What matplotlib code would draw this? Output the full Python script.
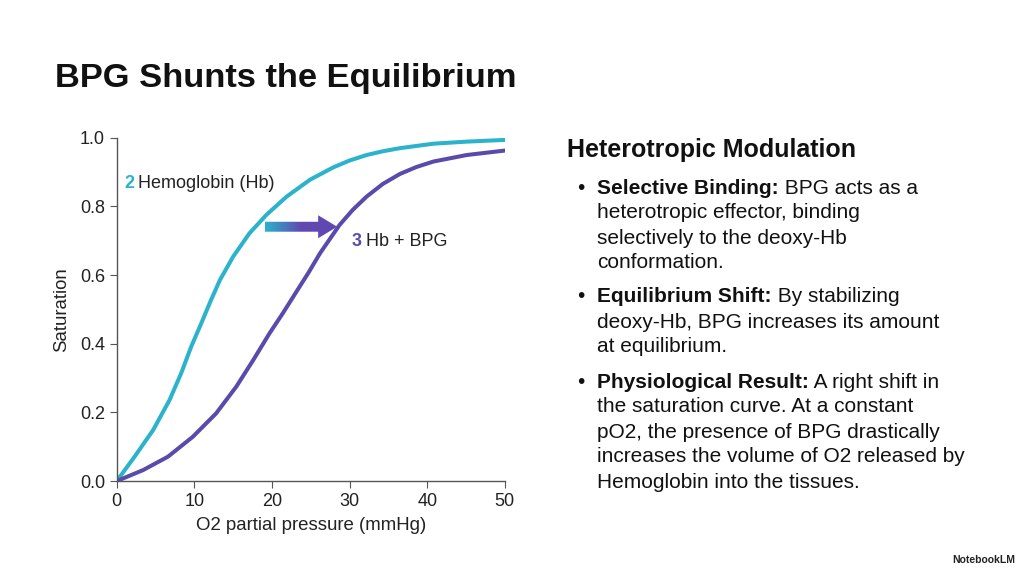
import matplotlib.pyplot as plt
import matplotlib.patches as mpatches
import numpy as np
from matplotlib.colors import LinearSegmentedColormap

plt.rcParams['font.family'] = ['Liberation Sans', 'DejaVu Sans']

# values
po2 = [0, 2.3, 4.7, 6.8, 8.3, 9.6, 10.9, 12.1, 13.3, 15.0, 17.1, 19.3, 21.9, 24.9,
       27.9, 30.0, 32.2, 34.3, 36.5, 40.8, 45.1, 50]
hb = [0, 0.071, 0.149, 0.236, 0.314, 0.392, 0.46, 0.525, 0.586, 0.654, 0.722, 0.776,
      0.829, 0.878, 0.914, 0.934, 0.950, 0.961, 0.970, 0.983, 0.989, 0.994]
po2_bpg = [0, 3.4, 6.6, 9.8, 12.8, 15.4, 17.6, 19.7, 21.4, 23.1, 24.7, 26.2, 28.7,
           30.4, 32.2, 34.3, 36.5, 38.6, 40.8, 45.1, 50]
hb_bpg = [0, 0.032, 0.071, 0.129, 0.197, 0.275, 0.353, 0.431, 0.489, 0.55, 0.607,
          0.664, 0.746, 0.79, 0.829, 0.866, 0.895, 0.915, 0.931, 0.950, 0.963]

cyan = '#2AB3CB'
purple = '#5A4AAB'

fig = plt.figure(figsize=(10.24, 5.72), dpi=100)
ax = fig.add_axes([0.114, 0.159, 0.379, 0.6])
ax.set_xlim(0, 50)
ax.set_ylim(0, 1.0)

ax.plot(po2, hb, color=cyan, lw=2.9, solid_capstyle='round', solid_joinstyle='round')
ax.plot(po2_bpg, hb_bpg, color=purple, lw=2.9, solid_capstyle='round', solid_joinstyle='round')

# gradient arrow between the curves
arrow = mpatches.FancyArrow(19.07, 0.741, 9.33, 0, width=0.029, head_width=0.067,
                            head_length=2.45, length_includes_head=True,
                            transform=ax.transData, facecolor='none', edgecolor='none')
ax.add_patch(arrow)
grad = np.linspace(0, 1, 256).reshape(1, -1)
cmap = LinearSegmentedColormap.from_list('g', [cyan, '#6148B0', '#6148B0'])
im = ax.imshow(grad, extent=[19.07, 28.4, 0.70, 0.78], cmap=cmap, aspect='auto', zorder=3)
im.set_clip_path(arrow)

ax.set_xlim(0, 50)
ax.set_ylim(0, 1.0)

renderer = fig.canvas.get_renderer()


def number_label(x, y, num, color, text):
    t = ax.text(x, y, num, color=color, fontsize=13, va='center', fontweight='bold')
    bb = t.get_window_extent(renderer)
    xd = ax.transData.inverted().transform((bb.x1 + 4, bb.y0))[0]
    ax.text(xd, y, text, color='#222222', fontsize=13, va='center')


number_label(1.0, 0.866, '2', cyan, 'Hemoglobin (Hb)')
number_label(30.3, 0.697, '3', purple, 'Hb + BPG')

ax.set_xticks([0, 10, 20, 30, 40, 50])
ax.set_yticks([0, 0.2, 0.4, 0.6, 0.8, 1.0])
ax.set_yticklabels(['0.0', '0.2', '0.4', '0.6', '0.8', '1.0'])
for s in ['top', 'right']:
    ax.spines[s].set_visible(False)
for s in ['left', 'bottom']:
    ax.spines[s].set_color('#555555')
    ax.spines[s].set_linewidth(1.0)
ax.tick_params(colors='#555555', labelcolor='#222222', labelsize=13, length=5)
ax.set_xlabel('O2 partial pressure (mmHg)', fontsize=13.4, color='#222222', labelpad=5)
ax.set_ylabel('Saturation', fontsize=13.4, color='#222222', labelpad=7)

fig.text(55 / 1024, 1 - 78 / 572, 'BPG Shunts the Equilibrium', fontsize=24.8,
         fontweight='bold', va='center', color='#111111')

fig.text(567 / 1024, 1 - 150 / 572, 'Heterotropic Modulation', fontsize=18,
         fontweight='bold', va='center', color='#111111')

bullets = [
    ('Selective Binding:', [' BPG acts as a', 'heterotropic effector, binding',
                            'selectively to the deoxy-Hb', 'conformation.'], 188),
    ('Equilibrium Shift:', [' By stabilizing', 'deoxy-Hb, BPG increases its amount',
                            'at equilibrium.'], 297),
    ('Physiological Result:', [' A right shift in', 'the saturation curve. At a constant',
                               'pO2, the presence of BPG drastically',
                               'increases the volume of O2 released by',
                               'Hemoglobin into the tissues.'], 382),
]

x0 = 597 / 1024
step = 25 / 572
for head, lines, ytop in bullets:
    y = 1 - ytop / 572
    fig.text(581 / 1024, y, '•', fontsize=15, va='center', ha='center', color='#111111')
    t = fig.text(x0, y, head, fontsize=15, fontweight='bold', va='center', color='#111111')
    bb = t.get_window_extent(renderer)
    fig.text(bb.x1 / fig.bbox.width, y, lines[0], fontsize=15, va='center', color='#111111')
    for i, ln in enumerate(lines[1:], start=1):
        fig.text(x0, y - i * step, ln, fontsize=15, va='center', color='#111111')

fig.text(1015 / 1024, 1 - 560 / 572, 'NotebookLM', fontsize=7.5, fontweight='bold',
         ha='right', va='center', color='#222222')

fig.savefig('out.png', dpi=100)
